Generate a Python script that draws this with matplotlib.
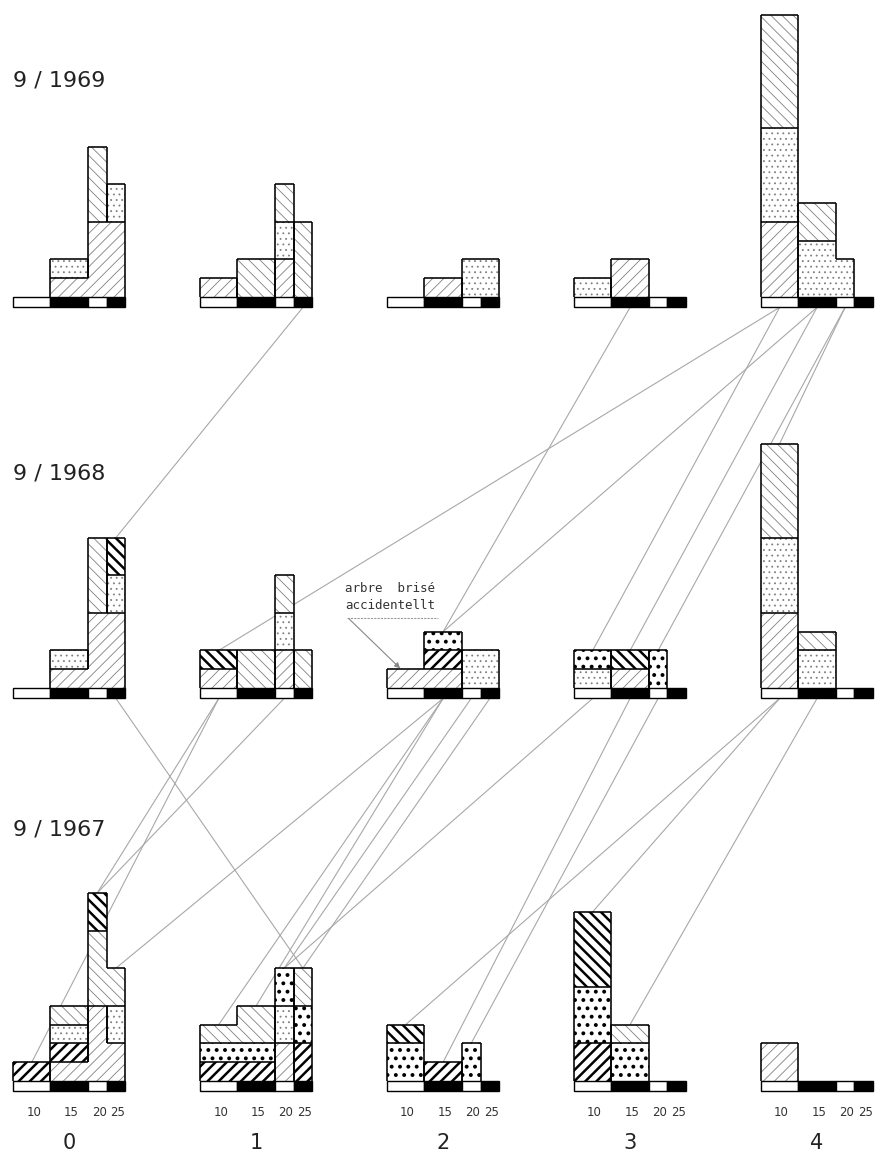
import numpy as np
import matplotlib.pyplot as plt
from matplotlib.patches import Rectangle
from matplotlib.collections import LineCollection


# Donnees : nombre d'arbres par classe de diametre, empiles depuis le bas
years = ['9 / 1969', '9 / 1968', '9 / 1967']
groups = ['0', '1', '2', '3', '4']
classes = ['10', '15', '20', '25']
class_width = [2, 2, 1, 1]
strip_color = ['white', 'black', 'white', 'black']

# fs = fine /, bs = fine \, dot = fins points, FS / BS / DOT = traits gras
stacks_1969 = [
    [[], [('fs', 1), ('dot', 1)], [('fs', 4), ('bs', 4)], [('fs', 4), ('dot', 2)]],
    [[('fs', 1)], [('bs', 2)], [('fs', 2), ('dot', 2), ('bs', 2)], [('bs', 4)]],
    [[], [('fs', 1)], [('dot', 2)], [('dot', 2)]],
    [[('dot', 1)], [('fs', 2)], [], []],
    [[('fs', 4), ('dot', 5), ('bs', 6)], [('dot', 3), ('bs', 2)], [('dot', 2)], []],
]
stacks_1968 = [
    [[], [('fs', 1), ('dot', 1)], [('fs', 4), ('bs', 4)], [('fs', 4), ('dot', 2), ('BS', 2)]],
    [[('fs', 1), ('BS', 1)], [('bs', 2)], [('fs', 2), ('dot', 2), ('bs', 2)], [('bs', 2)]],
    [[('fs', 1)], [('fs', 1), ('FS', 1), ('DOT', 1)], [('dot', 2)], [('dot', 2)]],
    [[('dot', 1), ('DOT', 1)], [('fs', 1), ('BS', 1)], [('DOT', 2)], []],
    [[('fs', 4), ('dot', 4), ('bs', 5)], [('dot', 2), ('bs', 1)], [], []],
]
stacks_1967 = [
    [[('FS', 1)], [('fs', 1), ('FS', 1), ('dot', 1), ('bs', 1)],
     [('fs', 4), ('bs', 4), ('BS', 2)], [('fs', 2), ('dot', 2), ('bs', 2)]],
    [[('FS', 1), ('DOT', 1), ('bs', 1)], [('FS', 1), ('DOT', 1), ('bs', 2)],
     [('fs', 2), ('dot', 2), ('DOT', 2)], [('FS', 2), ('DOT', 2), ('bs', 2)]],
    [[('DOT', 2), ('BS', 1)], [('FS', 1)], [('DOT', 2)], []],
    [[('FS', 2), ('DOT', 3), ('BS', 4)], [('DOT', 2), ('bs', 1)], [], []],
    [[('fs', 2)], [], [], []],
]
all_stacks = [stacks_1969, stacks_1968, stacks_1967]

# suivi des arbres : (annee, groupe, classe) -> (groupe, classe) de l'annee precedente
links = [
    (0, 1, 3, 0, 3), (0, 3, 1, 2, 1), (0, 4, 0, 1, 0), (0, 4, 0, 3, 0),
    (0, 4, 1, 2, 1), (0, 4, 1, 3, 1), (0, 4, 2, 3, 2), (0, 4, 2, 4, 0),
    (1, 0, 3, 1, 3), (1, 1, 0, 0, 0), (1, 1, 0, 0, 2), (1, 1, 2, 0, 2),
    (1, 2, 1, 0, 3), (1, 2, 1, 1, 0), (1, 2, 1, 1, 1), (1, 2, 2, 1, 2),
    (1, 2, 3, 1, 3), (1, 3, 0, 1, 2), (1, 3, 1, 2, 1), (1, 3, 2, 2, 2),
    (1, 4, 0, 3, 0), (1, 4, 0, 2, 0), (1, 4, 1, 3, 1),
]

# mise en page
row_base = [41.7, 20.9, 0.0]
label_dy = [11.5, 11.4, 13.4]
group_step = 10
strip_h = 0.55
styles = {
    'fs': ('///', '#808080', 0.6),
    'bs': ('\\\\\\', '#808080', 0.6),
    'dot': ('...', '#808080', 0.6),
    'FS': ('///', 'black', 1.8),
    'BS': ('\\\\\\', 'black', 1.8),
    'DOT': ('..', 'black', 1.6),
}
edges = np.concatenate([[0], np.cumsum(class_width)])
centers = (edges[:-1] + edges[1:]) / 2

fig = plt.figure(figsize=(8.75, 11.59), dpi=100)
ax = fig.add_axes([0, 0, 1, 1])
ax.set_xlim(-0.7, 46.1)
ax.set_ylim(-4.15, 57.5)
ax.axis('off')


def add_cell(x, y, w, h, pat):
    hatch, color, lw = styles[pat]
    with plt.rc_context({'hatch.linewidth': lw}):
        r = Rectangle((x, y), w, h, facecolor='white', edgecolor=color,
                      linewidth=0, hatch=hatch, zorder=2)
    if hasattr(r, 'set_hatch_linewidth'):
        r.set_hatch_linewidth(lw)
    ax.add_patch(r)


def expand(stack):
    out = []
    for pat, n in stack:
        out += [pat] * n
    return out


outline = []
for r, year_stacks in enumerate(all_stacks):
    base = row_base[r]
    for g, panel in enumerate(year_stacks):
        x0 = g * group_step
        xe = edges + x0
        # bande des classes de diametre
        for c in range(4):
            ax.add_patch(Rectangle((xe[c], base - strip_h), class_width[c], strip_h,
                                   facecolor=strip_color[c], edgecolor='black',
                                   linewidth=1.0, zorder=3))
        # remplissage
        for c, stack in enumerate(panel):
            y = base
            for pat, n in stack:
                add_cell(xe[c], y, class_width[c], n, pat)
                y += n
        # contours, on fusionne les cases voisines de meme motif
        grid = [expand(s) for s in panel]

        def pat_at(c, k):
            if 0 <= c < 4 and 0 <= k < len(grid[c]):
                return grid[c][k]
            return None

        for c in range(4):
            for k in range(len(grid[c])):
                p = grid[c][k]
                if pat_at(c, k + 1) != p:
                    outline.append([(xe[c], base + k + 1), (xe[c + 1], base + k + 1)])
                if pat_at(c - 1, k) != p:
                    outline.append([(xe[c], base + k), (xe[c], base + k + 1)])
                if pat_at(c + 1, k) != p:
                    outline.append([(xe[c + 1], base + k), (xe[c + 1], base + k + 1)])

ax.add_collection(LineCollection(outline, colors='black', linewidths=1.15, zorder=3))

# lignes de liaison entre annees
link_segs = []
for r, g1, c1, g2, c2 in links:
    top = (g1 * group_step + centers[c1], row_base[r] - strip_h)
    h = sum(n for _, n in all_stacks[r + 1][g2][c2])
    bot = (g2 * group_step + centers[c2], row_base[r + 1] + h)
    link_segs.append([top, bot])
ax.add_collection(LineCollection(link_segs, colors='#a8a8a8', linewidths=0.8, zorder=1))

# textes
for r, year in enumerate(years):
    ax.text(0, row_base[r] + label_dy[r], year, fontsize=16, ha='left', va='center',
            color='#222222')
for g, name in enumerate(groups):
    for c, cl in enumerate(classes):
        ax.text(g * group_step + centers[c] + 0.1, -1.7, cl, fontsize=8.5, ha='center',
                va='center', color='#333333')
    ax.text(g * group_step + 3, -3.3, name, fontsize=15, ha='center', va='center',
            color='#222222')

# note : arbre brise
nx, ny = 2 * group_step - 2.25, row_base[1] + 5.3
ax.text(nx, ny, 'arbre  brisé', family='DejaVu Sans Mono', fontsize=9,
        ha='left', va='center', color='#333333')
ax.text(nx, ny - 0.9, 'accidentellt', family='DejaVu Sans Mono', fontsize=9,
        ha='left', va='center', color='#333333')
ax.plot([nx + 0.1, nx + 5.0], [ny - 1.55, ny - 1.55], color='#999999', lw=0.8,
        ls=(0, (2, 1)), zorder=3)
ax.annotate('', xy=(2 * group_step + centers[0] - 0.3, row_base[1] + 1.05),
            xytext=(nx + 0.2, ny - 1.6),
            arrowprops=dict(arrowstyle='-|>', color='#888888', lw=0.8,
                            mutation_scale=8, shrinkA=0, shrinkB=0), zorder=3)

fig.savefig('out.png', dpi=100, facecolor='white')
